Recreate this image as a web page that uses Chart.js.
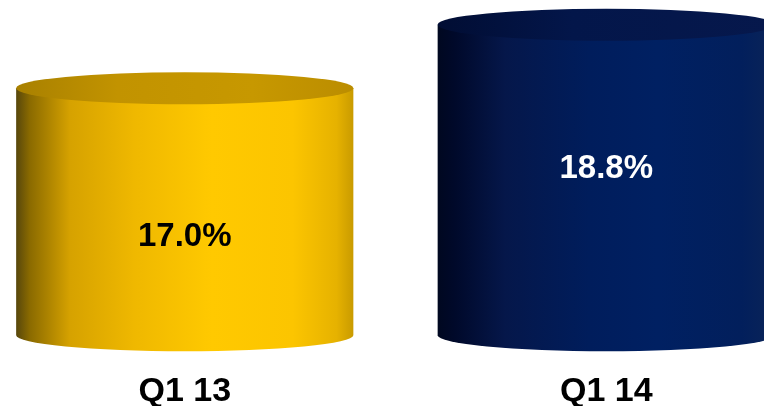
<!DOCTYPE html>
<html>
<head>
<meta charset="utf-8">
<script src="https://cdn.jsdelivr.net/npm/chart.js@4"></script>
<style>
  html, body { margin: 0; padding: 0; background: #fff; overflow: hidden; width: 764px; height: 406px; }
  #marco { position: absolute; left: -26px; top: 0; width: 843px; height: 448px; }
</style>
</head>
<body>
<div id="marco"><canvas id="grafico"></canvas></div>
<script>
const categorias = ["Q1 13", "Q1 14"];
const valores = [17.0, 18.8];
const colorTexto = ["#000000", "#ffffff"];

// tonos de cada cilindro: costado (de izquierda a derecha) y tapa
const tonos = [
  {
    lado: [[0, "#57470c"], [0.04, "#8a6a00"], [0.16, "#d6a200"], [0.35, "#efb800"],
           [0.58, "#ffc900"], [0.82, "#fcc500"], [0.95, "#e6b200"], [1, "#c99b00"]],
    tapa: [[0, "#a88000"], [0.3, "#c29300"], [0.7, "#c79800"], [1, "#bb8d00"]]
  },
  {
    lado: [[0, "#000820"], [0.05, "#00092a"], [0.2, "#05174a"], [0.45, "#001d5c"],
           [0.65, "#002062"], [0.9, "#021f5c"], [1, "#0a2458"]],
    tapa: [[0, "#010d33"], [0.4, "#03164a"], [1, "#06184c"]]
  }
];

function degradado(ctx, x0, x1, paradas) {
  const g = ctx.createLinearGradient(x0, 0, x1, 0);
  paradas.forEach(([p, c]) => g.addColorStop(p, c));
  return g;
}

const cilindros = {
  id: "cilindros",
  afterDatasetsDraw(chart) {
    const ctx = chart.ctx;
    const escalaY = chart.scales.y;
    const base = escalaY.getPixelForValue(escalaY.min);
    const meta = chart.getDatasetMeta(0);
    meta.data.forEach((bar, i) => {
      const { x, y, width } = bar.getProps(["x", "y", "width"], true);
      const izq = x - width / 2, der = x + width / 2;
      const rx = width / 2, ry = 16;
      const t = tonos[i];
      ctx.save();

      // costado con la mitad inferior de la base
      ctx.beginPath();
      ctx.moveTo(izq, y);
      ctx.lineTo(izq, base);
      ctx.ellipse(x, base, rx, ry, 0, Math.PI, 0, true);
      ctx.lineTo(der, y);
      ctx.closePath();
      ctx.fillStyle = degradado(ctx, izq, der, t.lado);
      ctx.fill();

      // tapa
      ctx.beginPath();
      ctx.ellipse(x, y, rx, ry, 0, 0, Math.PI * 2);
      ctx.fillStyle = degradado(ctx, izq, der, t.tapa);
      ctx.fill();

      // valor
      const caida = chart.options.plugins.cilindros.caida[i];
      ctx.font = "bold 33px 'Liberation Sans', Arial, sans-serif";
      ctx.fillStyle = colorTexto[i];
      ctx.textAlign = "center";
      ctx.textBaseline = "middle";
      ctx.fillText(valores[i].toFixed(1) + "%", x, y + caida);
      ctx.restore();
    });
  }
};

const ctx = document.getElementById("grafico").getContext("2d");
new Chart(ctx, {
  type: "bar",
  data: {
    labels: categorias,
    datasets: [{
      data: valores,
      backgroundColor: "rgba(0,0,0,0)",
      borderWidth: 0,
      barPercentage: 0.8,
      categoryPercentage: 1
    }]
  },
  options: {
    responsive: true,
    maintainAspectRatio: false,
    animation: false,
    layout: { padding: 0 },
    plugins: {
      legend: { display: false },
      tooltip: { enabled: false },
      cilindros: { caida: [149, 144] }
    },
    scales: {
      x: {
        grid: { display: false, drawTicks: false },
        border: { display: false },
        ticks: {
          color: "#000",
          padding: 36,
          maxRotation: 0,
          font: { family: "'Liberation Sans', Arial, sans-serif", size: 34, weight: "bold" }
        }
      },
      y: { display: false, min: 10, max: 19.5 }
    }
  },
  plugins: [cilindros]
});
</script>
</body>
</html>
